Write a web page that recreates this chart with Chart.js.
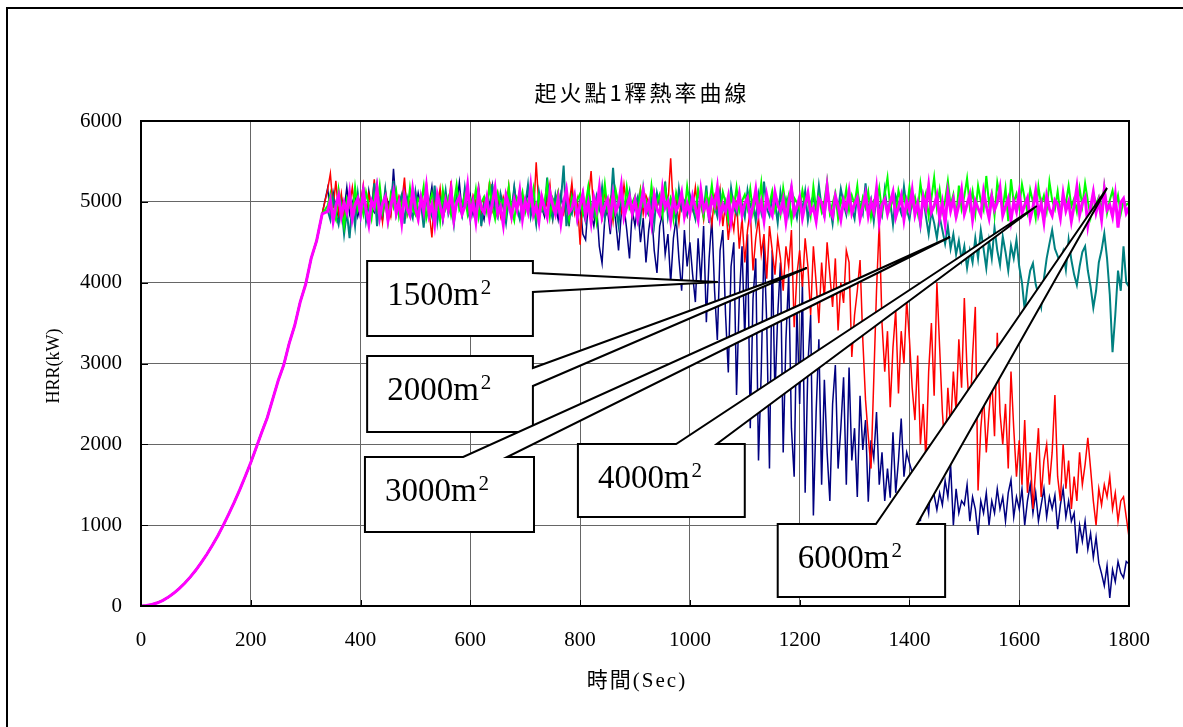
<!DOCTYPE html>
<html>
<head>
<meta charset="utf-8">
<title>起火點1釋熱率曲線</title>
<script src="https://cdn.jsdelivr.net/npm/chart.js@4.4.0/dist/chart.umd.min.js"></script>
<style>
  html, body { margin: 0; padding: 0; background: #fff; }
  #wrap { width: 1183px; height: 727px; }
</style>
</head>
<body>
<div id="wrap"><canvas id="hrrChart" width="1183" height="727"></canvas></div>
<script>
// growth phase, shared by every run (sec / kW)
const rampSec = [0, 10, 20, 30, 40, 50, 60, 70, 80, 90, 100, 110, 120, 130, 140, 150, 160,
  170, 180, 190, 200, 210, 220, 230, 240, 250, 260, 270, 280, 290, 300, 310, 320, 330];
const rampHrr = [0, 5, 18, 40, 70, 110, 160, 218, 285, 360, 445, 540, 640, 752, 870, 1000, 1140,
  1285, 1440, 1605, 1775, 1960, 2150, 2330, 2560, 2790, 2980, 3250, 3470, 3760, 3980, 4300, 4520, 4850];

// after the ramp every run is logged every 5 s from 340 s to 1800 s
const logStart = 340;
const logStep = 5;

const hrr1500 = [
  5170, 4870, 5120, 4930, 4800, 5060, 4900, 5180, 4850, 4990, 5100, 4820,
  4960, 5050, 4810, 5140, 4920, 4870, 5220, 4950, 4780, 5080, 5000, 4860, 5410, 4930, 5040, 4820, 5150, 4900, 4990, 5060,
  4880, 5110, 4940, 4800, 5030, 4970, 5190, 4850, 4920, 5070, 4760, 5000, 4890, 5130, 4830, 4960, 5240, 4870, 5020, 4910,
  5080, 4840, 4990, 5150, 4900, 4780, 5060, 4950, 5200, 4860, 5010, 4930, 4720, 5100, 4970, 4850, 5180, 4920, 4800, 5040,
  4950, 5120, 4870, 5010, 4740, 5060, 4930, 4820, 5170, 4900, 5040, 4960, 4780, 5090, 4880, 5000, 4700, 5130, 4920, 4850,
  4980, 4600, 4530, 5000, 4860, 4700, 4950, 4450, 4240, 4800, 4900, 4600, 5050, 4750, 4400, 4850, 4950, 4650, 4300, 4900,
  4700, 4950, 4500, 4800, 4250, 4650, 4900, 4400, 4120, 4700, 4850, 4350, 4600, 4000, 4550, 4800, 4300, 3900, 4650, 4200,
  4500, 4100, 3760, 4550, 4000, 4700, 3510, 4300, 4800, 3900, 3290, 4400, 4650, 3600, 2890, 4200, 4500, 2610, 3800, 4450,
  3300, 4600, 2200, 3800, 4300, 1800, 2900, 4500, 3500, 1700, 4400, 2600, 3600, 4250, 1900, 3300, 4100, 2200, 1600, 3700,
  2500, 4000, 1400, 2980, 3600, 1120, 2400, 3300, 1500, 2800, 1900, 1300, 2500, 2980, 1700, 2200, 2830, 1500, 2950, 1800,
  2200, 1350, 2600, 1930, 2300, 1290, 2050, 1830, 2400, 1500, 1900, 1300, 1700, 1340, 2150, 1400, 1800, 2320, 1600, 1900,
  1770, 1650, 1200, 1500, 1050, 1700, 1350, 1150, 1600, 1370, 1190, 1400, 1250, 1550, 1350, 1745, 1000, 1450, 1150, 1300,
  1250, 1500, 1050, 1350, 1200, 880, 1300, 1150, 1400, 1000, 1300, 1150, 1450, 1200, 1350, 1050, 1400, 1560, 1100, 1350,
  1200, 1450, 1000, 1300, 1500, 1150, 1400, 1050, 1250, 1450, 1100, 1350, 1200, 1370, 950, 1250, 1450, 1100, 1300, 1050,
  1150, 650, 1000, 800, 1050, 700, 900, 600, 850, 530, 400, 250, 500, 100, 450, 300, 550, 410, 350, 550,
  520
];

const hrr2000 = [
  5150, 5350, 4920, 5260, 4850, 5100, 4780, 5020, 4950, 5180, 4880, 5060,
  4990, 5210, 4830, 5100, 4920, 5280, 4870, 5030, 4750, 5150, 4960, 4820, 5190, 4900, 5070, 4980, 5300, 4850, 5010, 4930,
  5120, 4790, 5040, 4960, 5230, 4880, 4560, 5090, 4940, 5170, 4850, 5020, 4910, 5260, 4800, 5060, 4970, 4870, 5140, 4920,
  4850, 5080, 4990, 5190, 4760, 5030, 4920, 5250, 4880, 4970, 5110, 4830, 5060, 4940, 5200, 4790, 5020, 4910, 5150, 4870,
  5040, 4960, 5180, 4820, 5490, 4930, 5080, 4870, 5010, 5220, 4790, 4990, 5130, 4900, 4840, 5070, 4960, 5240, 4860, 5030,
  4470, 5100, 4920, 5020, 5380, 4850, 5060, 4950, 4800, 5150, 4900, 5040, 4760, 5120, 4980, 4870, 5210, 4930, 5050, 4820,
  5010, 4940, 5160, 4850, 5080, 4990, 4770, 5120, 4930, 5060, 4880, 5200, 4960, 5540, 4890, 5020, 4740, 5100, 4950, 4830,
  5070, 4910, 5180, 4860, 5000, 4780, 5130, 4950, 4720, 5060, 4880, 5150, 4700, 4990, 4530, 4850, 4650, 5020, 4420, 4800,
  4250, 4650, 4900, 4150, 4550, 4800, 4350, 4600, 4050, 4700, 4400, 4100, 4550, 4300, 3900, 4450, 4200, 4650, 3450, 4100,
  4400, 3950, 4550, 4200, 3600, 4450, 4000, 3500, 4250, 3800, 4500, 4100, 3700, 4300, 3410, 4000, 3750, 4400, 4250, 3080,
  3600, 3900, 4280, 3300, 2550, 2100, 1700, 2800, 3900, 4740, 3500, 2900, 3400, 2460, 3200, 3660, 2630, 3400, 3000, 3790,
  3300, 2700, 2300, 3100, 2000, 2500, 1800, 2900, 3500, 2600, 4000, 3200, 2400, 1900, 2700, 2200, 2900, 2400, 3300, 2700,
  3810, 2900, 2300, 3100, 3700, 1430, 2200, 2600, 1900, 2400, 2800, 2100, 3380, 2390, 2000, 2500, 1700, 2900, 2200, 1600,
  2050, 1500, 2300, 1400, 1900, 1200, 1700, 2200, 1350, 1800, 2000, 1500, 1900, 2610, 1600, 1300, 2000, 1450, 1800, 1200,
  1600, 1300, 1900, 1500, 1750, 2080, 1700, 1300, 1000, 1450, 1250, 1500, 1350, 1600, 1200, 1400, 1050, 1300, 1350, 1100,
  855
];

const hrr3000 = [
  4900, 4780, 5050, 4850, 4720, 4950, 4600, 4880, 4550, 4990, 4700, 5100,
  4820, 5180, 4760, 4950, 4880, 5230, 4700, 5010, 4860, 5150, 4790, 4930, 5260, 4840, 4980, 5090, 4730, 5050, 4910, 4800,
  5120, 4870, 4990, 4680, 5070, 4940, 4820, 5200, 4760, 5030, 4900, 5140, 4850, 4970, 4720, 5090, 4960, 4830, 5170, 4890,
  4780, 5010, 4930, 5150, 4700, 4980, 5060, 4850, 5220, 4900, 4810, 5100, 4950, 4740, 5040, 4880, 5180, 4920, 4790, 5070,
  4960, 5210, 4820, 4990, 4730, 5120, 4910, 4860, 5300, 4950, 4790, 5080, 4890, 5010, 5450, 4700, 4930, 4850, 5060, 4780,
  5020, 4890, 4760, 5140, 4950, 4830, 5070, 4920, 5180, 4800, 5000, 4870, 5420, 4940, 4710, 5090, 4850, 4980, 5130, 4820,
  4950, 5060, 4790, 5170, 4900, 4840, 5020, 4730, 5110, 4960, 4880, 5250, 4820, 5040, 4930, 4770, 5160, 4910, 5000, 4850,
  5080, 4920, 4790, 5130, 4990, 4860, 5200, 4740, 5050, 4950, 4820, 5110, 4900, 5010, 4780, 5170, 4930, 4850, 5060, 4970,
  4810, 5140, 4940, 5020, 4760, 5090, 4880, 5250, 4920, 4830, 5060, 4990, 4740, 5120, 4900, 5030, 4850, 5180, 4960, 4800,
  5050, 4910, 5130, 4770, 4990, 5070, 4860, 5200, 4930, 4820, 5100, 4950, 4730, 5040, 4890, 5160, 4980, 4840, 5080, 4920,
  4790, 5110, 4960, 4850, 5230, 4900, 5030, 4760, 5090, 4940, 4830, 5150, 4880, 5010, 4720, 5070, 4970, 4860, 5190, 4910,
  4780, 5020, 4890, 4950, 4700, 5060, 4820, 4600, 4880, 4740, 4550, 4820, 4650, 4480, 4700, 4420, 4600, 4350, 4520, 4280,
  4450, 4180, 4400, 4250, 4550, 4300, 4650, 4420, 4180, 4520, 4300, 4680, 4400, 4220, 4570, 4380, 4150, 4460, 4300, 4530,
  4200, 4000, 3660, 3950, 4150, 4240, 3980, 3850, 3700, 4050, 4300, 4480, 4650, 4420, 4330, 4240, 4380, 4160, 4530, 4280,
  4100, 3970, 4200, 4380, 4450, 4150, 3950, 3690, 3900, 4250, 4400, 4610, 4300, 3850, 3140, 3600, 4150, 3900, 4450, 4000,
  3950
];

const hrr4000 = [
  4950, 5100, 4870, 4780, 5150, 4920, 4700, 5050, 4980, 4830, 5180, 4900,
  5020, 4850, 5120, 4960, 4790, 5070, 4930, 5200, 4880, 5010, 4760, 5090, 4940, 5130, 4820, 4990, 5060, 4870, 5170, 4910,
  4840, 5040, 4980, 5190, 4800, 4950, 5100, 4870, 5010, 4760, 5140, 4920, 5050, 4830, 4990, 5210, 4900, 4970, 5080, 4850,
  5030, 4920, 5150, 4810, 4990, 5060, 4880, 5200, 4940, 4790, 5100, 4960, 5020, 4850, 5180, 4910, 4770, 5050, 4980, 5120,
  4870, 5010, 4950, 5160, 4830, 5070, 4900, 4980, 5210, 4820, 5040, 4930, 5110, 4860, 4990, 5150, 4780, 5060, 4920, 5020,
  5100, 4850, 4970, 5190, 4880, 5030, 4760, 5080, 4940, 5220, 4900, 5010, 4830, 5140, 4960, 5050, 4870, 5180, 4920, 4990,
  5070, 4810, 5130, 4950, 5020, 4880, 5200, 4910, 4990, 5090, 4840, 5160, 4930, 5040, 4790, 5110, 4970, 5060, 4860, 5190,
  4940, 5030, 4870, 5150, 4980, 4820, 5100, 4960, 5210, 4900, 5040, 4850, 5120, 4990, 4780, 5070, 4930, 5180, 4880, 5010,
  5090, 4920, 5160, 4860, 5020, 4950, 5230, 4810, 5060, 4970, 5130, 4890, 5000, 4840, 5170, 4940, 5080, 4770, 5050, 4990,
  4900, 5140, 4960, 5040, 4830, 5190, 4920, 5070, 4880, 5010, 5250, 4860, 4980, 5110, 4790, 5030, 4940, 5160, 4890, 5080,
  4970, 5200, 4850, 5050, 4930, 5120, 4810, 5010, 4960, 5170, 4880, 5090, 5300, 4920, 5040, 4840, 5140, 4990, 5070, 4900,
  5180, 4950, 5060, 4870, 5230, 4990, 5110, 4820, 5040, 5300, 4930, 5150, 4880, 5020, 5260, 4960, 5090, 4790, 5200, 4910,
  5070, 5290, 4940, 5130, 4850, 5200, 5010, 4900, 5320, 4980, 5110, 4830, 5240, 5050, 4920, 5170, 4760, 5280, 4990, 5100,
  4930, 5220, 5040, 4870, 5150, 5000, 4800, 5190, 4960, 5080, 4890, 5250, 5020, 4910, 5130, 4850, 5070, 4980, 5200, 4940,
  5040, 4880, 5170, 4950, 5230, 5010, 4820, 5110, 4970, 5060, 4900, 5190, 4860, 5020, 5140, 4930, 5080, 4850, 5010, 4960,
  4990
];

const hrr6000 = [
  4880, 5020, 4760, 4950, 5080, 4820, 4990, 4870, 5110, 4790, 4960, 5040,
  4850, 5130, 4900, 4720, 5010, 4930, 5160, 4810, 4980, 5060, 4770, 4940, 5120, 4860, 5000, 4740, 5070, 4910, 4830, 5150,
  4920, 4790, 5050, 4880, 5180, 4840, 4970, 4730, 5090, 4950, 4810, 5020, 4900, 5140, 4780, 4990, 5060, 4850, 4940, 5200,
  4830, 5000, 4760, 5110, 4920, 4870, 5050, 4800, 4980, 5170, 4850, 4940, 4720, 5080, 4960, 4820, 5030, 4900, 5130, 4790,
  5010, 4880, 5190, 4840, 4950, 4760, 5060, 4930, 4810, 5120, 4970, 4850, 5040, 4740, 4990, 5150, 4870, 4920, 5070, 4800,
  4960, 5100, 4830, 4990, 4750, 5050, 4900, 5170, 4820, 4950, 5030, 4780, 5090, 4880, 4970, 5200, 4810, 4940, 5060, 4860,
  5020, 4790, 4950, 5130, 4870, 4990, 4740, 5080, 4910, 4840, 5160, 4930, 5010, 4770, 5050, 4890, 4960, 5110, 4820, 4980,
  4850, 5070, 4930, 4780, 5140, 4900, 4990, 4820, 5040, 4950, 5180, 4810, 4970, 4880, 5060, 4760, 5010, 4920, 5100, 4840,
  4980, 5050, 4790, 4940, 5150, 4860, 5000, 4770, 5080, 4910, 4830, 5120, 4960, 4880, 5030, 4750, 4990, 5170, 4850, 4940,
  5060, 4800, 4970, 5110, 4870, 4930, 4760, 5040, 4990, 4840, 5190, 4900, 4820, 5070, 4950, 4780, 5020, 4910, 5130, 4860,
  4970, 5050, 4790, 4940, 5100, 4830, 5000, 4880, 5160, 4750, 4960, 5030, 4850, 4990, 5120, 4810, 4930, 5070, 4780, 5010,
  4900, 5140, 4840, 4980, 4760, 5060, 4920, 5200, 4870, 4950, 5080, 4800, 4990, 4730, 5110, 4890, 5030, 4820, 4960, 5150,
  4850, 4970, 5090, 4780, 5010, 4920, 4840, 5130, 4950, 4800, 5060, 4900, 4990, 5170, 4830, 4940, 5040, 4770, 5000, 4880,
  5110, 4860, 4960, 5050, 4790, 4930, 5140, 4850, 4980, 4750, 5070, 4910, 4830, 5020, 4970, 4800, 5100, 4890, 5000, 4760,
  4950, 5180, 4840, 4990, 5060, 4710, 4930, 5120, 4870, 5010, 4780, 5150, 4900, 4960, 4820, 5080, 4680, 4990, 5040, 4860,
  4930
];

const areaNames = ['1500m', '2000m', '3000m', '4000m', '6000m'];
const xTicks = [0, 200, 400, 600, 800, 1000, 1200, 1400, 1600, 1800];
const yTicks = [0, 1000, 2000, 3000, 4000, 5000, 6000];

const SERIF = '"Liberation Serif", "Times New Roman", serif';
const CJK = '"Liberation Serif", "Noto Sans CJK TC", serif';

function toPoints(run) {
  const pts = rampSec.map((t, i) => ({ x: t, y: rampHrr[i] }));
  run.forEach((v, i) => pts.push({ x: logStart + i * logStep, y: v }));
  return pts;
}

// callout boxes, in axis units: box [left sec, right sec, top kW, bottom kW],
// base = where the pointer leaves the box, tip = point on the curve
const callouts = [
  { name: areaNames[0], box: [412, 714, 4268, 3340], side: 'right', base: [4120, 3885], tip: [1051, 4008] },
  { name: areaNames[1], box: [412, 714, 3093, 2153], side: 'right', base: [2944, 2722], tip: [1213, 4181] },
  { name: areaNames[2], box: [408, 716, 1843, 915], side: 'top', base: [587, 667], tip: [1474, 4565] },
  { name: areaNames[3], box: [796, 1100, 2004, 1101], side: 'top', base: [975, 1049], tip: [1632, 4948] },
  { name: areaNames[4], box: [1160, 1465, 1014, 111], side: 'top', base: [1339, 1414], tip: [1760, 5171] }
];

const decor = {
  id: 'decor',
  beforeDraw(chart) {
    const c = chart.ctx;
    c.save();
    c.fillStyle = '#fff';
    c.fillRect(0, 0, chart.width, chart.height);
    c.restore();
  },
  afterDatasetsDraw(chart) {
    const c = chart.ctx;
    const a = chart.chartArea;
    const xs = chart.scales.x, ys = chart.scales.y;
    c.save();

    // plot frame and short inner ticks
    c.strokeStyle = '#000';
    c.lineWidth = 2;
    c.strokeRect(a.left, a.top, a.right - a.left, a.bottom - a.top);
    c.lineWidth = 1;
    c.beginPath();
    xTicks.forEach(t => {
      const px = Math.round(xs.getPixelForValue(t)) + 0.5;
      c.moveTo(px, a.bottom); c.lineTo(px, a.bottom - 6);
    });
    yTicks.forEach(v => {
      const py = Math.round(ys.getPixelForValue(v)) + 0.5;
      c.moveTo(a.left, py); c.lineTo(a.left + 7, py);
    });
    c.stroke();

    // labelled callouts
    callouts.forEach(co => {
      const L = xs.getPixelForValue(co.box[0]), R = xs.getPixelForValue(co.box[1]);
      const T = ys.getPixelForValue(co.box[2]), B = ys.getPixelForValue(co.box[3]);
      const tx = xs.getPixelForValue(co.tip[0]), ty = ys.getPixelForValue(co.tip[1]);
      c.beginPath();
      c.moveTo(L, T);
      if (co.side === 'right') {
        c.lineTo(R, T);
        c.lineTo(R, ys.getPixelForValue(co.base[0]));
        c.lineTo(tx, ty);
        c.lineTo(R, ys.getPixelForValue(co.base[1]));
      } else {
        c.lineTo(xs.getPixelForValue(co.base[0]), T);
        c.lineTo(tx, ty);
        c.lineTo(xs.getPixelForValue(co.base[1]), T);
        c.lineTo(R, T);
      }
      c.lineTo(R, B);
      c.lineTo(L, B);
      c.closePath();
      c.fillStyle = '#fff';
      c.fill();
      c.strokeStyle = '#000';
      c.lineWidth = 2;
      c.stroke();

      c.fillStyle = '#000';
      c.textAlign = 'left';
      c.textBaseline = 'alphabetic';
      c.font = '33px ' + SERIF;
      c.fillText(co.name, L + 20, T + 44);
      const w = c.measureText(co.name).width;
      c.font = '21px ' + SERIF;
      c.fillText('2', L + 22 + w, T + 33);
    });
    c.restore();
  },
  afterDraw(chart) {
    const c = chart.ctx;
    c.save();
    // outer border of the sheet
    c.strokeStyle = '#000';
    c.lineWidth = 2;
    c.strokeRect(7, 8, 1300, 900);

    c.fillStyle = '#000';
    c.textAlign = 'center';
    c.textBaseline = 'middle';
    c.font = '22px "Noto Sans CJK TC", sans-serif';
    c.letterSpacing = '3px';
    c.fillText('起火點1釋熱率曲線', 642, 93);

    c.font = '21px ' + CJK;
    c.letterSpacing = '2px';
    c.fillText('時間(Sec)', 637, 681);
    c.letterSpacing = '0px';

    c.translate(54, 366);
    c.rotate(-Math.PI / 2);
    c.font = '18px ' + SERIF;
    c.fillText('HRR(kW)', 0, 0);
    c.restore();
  }
};

function run(label, data, color, width) {
  return {
    label: label,
    data: toPoints(data),
    borderColor: color,
    backgroundColor: color,
    borderWidth: width,
    pointRadius: 0,
    tension: 0,
    fill: false
  };
}

new Chart(document.getElementById('hrrChart'), {
  type: 'line',
  data: {
    // first dataset ends up on top
    datasets: [
      run(areaNames[4] + '²', hrr6000, '#FF00FF', 3),
      run(areaNames[3] + '²', hrr4000, '#00FF00', 2),
      run(areaNames[2] + '²', hrr3000, '#008080', 2),
      run(areaNames[1] + '²', hrr2000, '#FF0000', 1.5),
      run(areaNames[0] + '²', hrr1500, '#000080', 1.5)
    ]
  },
  options: {
    responsive: false,
    animation: false,
    devicePixelRatio: 1,
    layout: { padding: { left: 0, top: 121, right: 54, bottom: 0 } },
    plugins: { legend: { display: false }, tooltip: { enabled: false }, title: { display: false } },
    scales: {
      x: {
        type: 'linear',
        min: 0,
        max: 1800,
        afterFit: s => { s.height = 121; },
        afterBuildTicks: s => { s.ticks = xTicks.map(v => ({ value: v })); },
        ticks: { color: '#000', font: { family: SERIF, size: 21 }, padding: 22, maxRotation: 0, autoSkip: false,
          callback: v => String(v) },
        grid: { color: '#666', lineWidth: 1, drawTicks: false },
        border: { display: false }
      },
      y: {
        min: 0,
        max: 6000,
        afterFit: s => { s.width = 141; },
        afterBuildTicks: s => { s.ticks = yTicks.map(v => ({ value: v })); },
        ticks: { color: '#000', font: { family: SERIF, size: 21 }, padding: 19, callback: v => String(v) },
        grid: { color: '#666', lineWidth: 1, drawTicks: false },
        border: { display: false }
      }
    }
  },
  plugins: [decor]
});
</script>
</body>
</html>
